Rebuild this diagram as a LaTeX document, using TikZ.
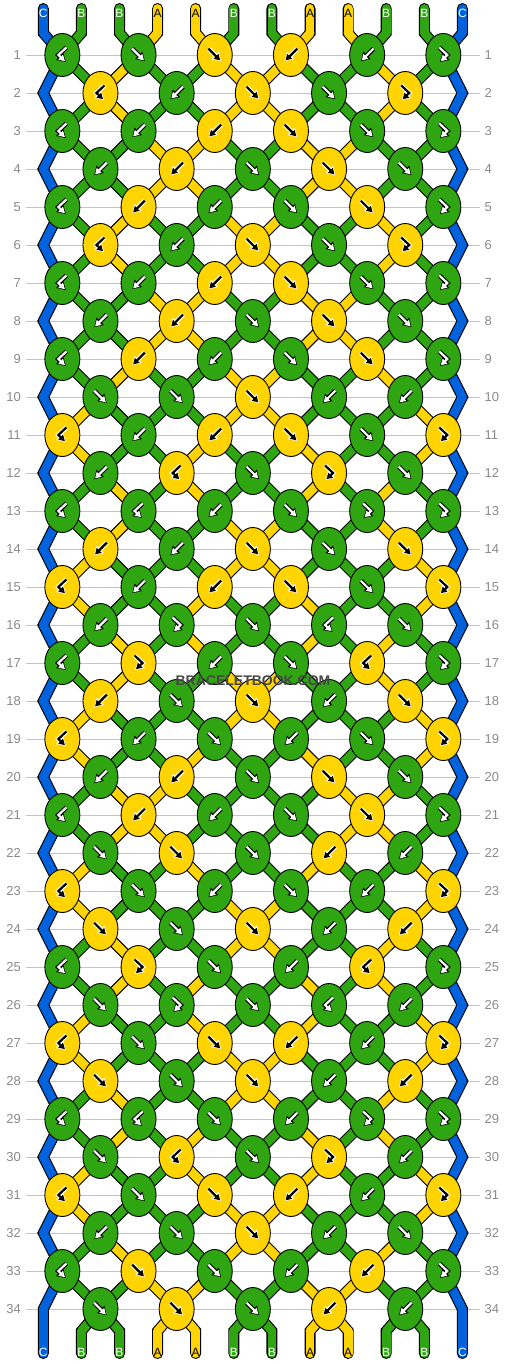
\documentclass[tikz,border=0pt]{standalone}
\usepackage{fontspec}
\setmainfont{Liberation Sans}
\usetikzlibrary{arrows.meta, backgrounds, shapes.geometric}

\definecolor{StrA}{HTML}{FFD400}
\definecolor{StrB}{HTML}{2FA512}
\definecolor{StrC}{HTML}{0062DC}
\colorlet{ArrA}{black}
\colorlet{RimA}{white}
\colorlet{ArrB}{white}
\colorlet{RimB}{black}
\colorlet{ArrC}{white}
\definecolor{RowGrey}{HTML}{C4C4C4}
\definecolor{NumGrey}{HTML}{8A8A8A}

% knot glyphs round the knot centre
\newcommand\glyphf[1]{\draw[#1] (-6.3,-6.3) -- (6.3,6.3);}
\newcommand\glyphb[1]{\draw[#1] (6.3,-6.3) -- (-6.3,6.3);}
\newcommand\glyphfb[1]{\draw[#1] (-4,-7.5) -- (4,0) -- (-3.5,7);}
\newcommand\glyphbf[1]{\draw[#1] (4,-7.5) -- (-4,0) -- (3.5,7);}
\newcommand\knotglyph[3]{%
  \begin{scope}[shift={(#1)}]
    \csname glyph#2\endcsname{line width=4.4pt, color=Rim#3, line join=miter,
      -{Triangle[length=8.5pt,width=9.8pt]}}
    \csname glyph#2\endcsname{line width=2.2pt, color=Arr#3, shorten >=1.3pt,
      -{Triangle[length=5.8pt,width=6.6pt]}}
  \end{scope}}

\begin{document}
\begin{tikzpicture}[x=1pt, y=-1pt,
    knot/.style={ellipse, draw=black, line width=0.9pt, minimum width=35pt,
                 minimum height=43pt, inner sep=0pt},
    rim/.style={line width=11pt, black, line cap=round, line join=miter},
    strand/.style={line width=8.8pt, line cap=round, line join=miter},
    rownum/.style={text=NumGrey, inner sep=0pt, font=\fontsize{13}{13}\selectfont},
    endlabel/.style={inner sep=0pt, font=\fontsize{12}{12}\selectfont}
]
\useasboundingbox (0,0) rectangle (506,1364);

% row numbers
\foreach \r in {1,...,34}{
  \pgfmathsetmacro\ky{17+38*\r}
  \node[rownum, anchor=east] (numL-\r) at (21,\ky) {\r};
  \node[rownum, anchor=west] (numR-\r) at (484.5,\ky) {\r};
}

% knots, type/colour
\foreach \r/\row in {
  1/{bf/B,f/B,f/A,b/A,b/B,fb/B},
  2/{bf/A,b/B,f/A,f/B,fb/A},
  3/{bf/B,b/B,b/A,f/A,f/B,fb/B},
  4/{b/B,b/A,f/B,f/A,f/B},
  5/{bf/B,b/A,b/B,f/B,f/A,fb/B},
  6/{bf/A,b/B,f/A,f/B,fb/A},
  7/{bf/B,b/B,b/A,f/A,f/B,fb/B},
  8/{b/B,b/A,f/B,f/A,f/B},
  9/{bf/B,b/A,b/B,f/B,f/A,fb/B},
  10/{f/B,f/B,f/A,b/B,b/B},
  11/{bf/A,b/B,b/A,f/A,f/B,fb/A},
  12/{b/B,bf/A,f/B,fb/A,f/B},
  13/{bf/B,bf/B,b/B,f/B,fb/B,fb/B},
  14/{b/A,b/B,f/A,f/B,f/A},
  15/{bf/A,b/B,b/A,f/A,f/B,fb/A},
  16/{b/B,fb/B,f/B,bf/B,f/B},
  17/{bf/B,fb/A,b/B,f/B,bf/A,fb/B},
  18/{b/A,f/B,f/A,b/B,f/A},
  19/{bf/A,b/B,f/B,b/B,f/B,fb/A},
  20/{b/B,b/A,f/B,f/A,f/B},
  21/{bf/B,b/A,b/B,f/B,f/A,fb/B},
  22/{f/B,f/A,f/B,b/A,b/B},
  23/{bf/A,f/B,b/B,f/B,b/B,fb/A},
  24/{f/A,f/B,f/A,b/B,b/A},
  25/{bf/B,fb/A,f/B,b/B,bf/A,fb/B},
  26/{f/B,fb/B,f/B,bf/B,b/B},
  27/{bf/A,f/B,f/A,b/A,b/B,fb/A},
  28/{f/A,f/B,f/A,b/B,b/A},
  29/{bf/B,bf/B,f/B,b/B,fb/B,fb/B},
  30/{f/B,bf/A,f/B,fb/A,b/B},
  31/{bf/A,f/B,f/A,b/A,b/B,fb/A},
  32/{b/B,f/B,f/A,b/B,f/B},
  33/{bf/B,f/A,f/B,b/B,b/A,fb/B},
  34/{f/B,f/A,f/B,b/A,b/B}}{
  \pgfmathsetmacro\ky{17+38*\r}
  \foreach \t/\c [count=\j] in \row {
    \pgfmathsetmacro\kx{mod(\r,2)==1 ? 76.2*\j-13.85 : 76.2*\j+24.25}
    \pgfmathtruncatemacro\pl{mod(\r,2)==1 ? 2*\j-1 : 2*\j}
    \pgfmathtruncatemacro\pr{\pl+1}
    \node[knot, fill=Str\c] (k-\r-\j) at (\kx,\ky) {};
    \coordinate (a-\r-\pl) at (k-\r-\j.center);
    \coordinate (a-\r-\pr) at (k-\r-\j.center);
    \knotglyph{k-\r-\j}{\t}{\c}
  }
  \ifodd\r\else
    \coordinate (a-\r-1) at (43.3,\ky);
    \coordinate (a-\r-12) at (462.4,\ky);
  \fi
}

% string ends
\foreach \c [count=\p] in {C,B,B,A,A,B,B,A,A,B,B,C}{
  \pgfmathsetmacro\sx{43.3+38.1*(\p-1)}
  \coordinate (t-\p) at (\sx,8.5);
  \coordinate (a-0-\p) at (\sx,33);
  \coordinate (a-35-\p) at (\sx,1331);
  \coordinate (e-\p) at (\sx,1353.5);
  \node[endlabel, text=Arr\c] (top-\p) at (\sx,13) {\c};
  \node[endlabel, text=Arr\c] (bot-\p) at (\sx,1352.5) {\c};
}

\node[font=\bfseries\fontsize{14}{14}\selectfont, text=black!72] (mark) at (253,681) {BRACELETBOOK.COM};

\begin{pgfonlayer}{background}
  % grid lines
  \foreach \r in {1,...,34}{
    \pgfmathsetmacro\ky{17+38*\r}
    \draw[RowGrey, line width=0.9pt] (26,\ky) -- (480,\ky);
  }
  % strand outlines
  \foreach \p in {1,...,12}{
    \draw[rim] (t-\p) \foreach \r in {0,...,35}{ -- (a-\r-\p)} -- (e-\p);
  }
  % strand colours, one list per row gap
  \foreach \r/\st in {
    0/{C,B,B,A,A,B,B,A,A,B,B,C},
    1/{C,B,A,B,B,A,A,B,B,A,B,C},
    2/{C,B,A,B,B,A,A,B,B,A,B,C},
    3/{C,B,B,A,A,B,B,A,A,B,B,C},
    4/{C,B,B,A,A,B,B,A,A,B,B,C},
    5/{C,B,A,B,B,A,A,B,B,A,B,C},
    6/{C,B,A,B,B,A,A,B,B,A,B,C},
    7/{C,B,B,A,A,B,B,A,A,B,B,C},
    8/{C,B,B,A,A,B,B,A,A,B,B,C},
    9/{C,B,A,B,B,A,A,B,B,A,B,C},
    10/{C,A,B,B,B,A,A,B,B,B,A,C},
    11/{C,A,B,B,A,B,B,A,B,B,A,C},
    12/{C,B,A,B,A,B,B,A,B,A,B,C},
    13/{C,B,A,B,B,A,A,B,B,A,B,C},
    14/{C,A,B,B,B,A,A,B,B,B,A,C},
    15/{C,A,B,B,A,B,B,A,B,B,A,C},
    16/{C,B,A,B,A,B,B,A,B,A,B,C},
    17/{C,B,A,B,B,A,A,B,B,A,B,C},
    18/{C,A,B,B,B,A,A,B,B,B,A,C},
    19/{C,A,B,B,A,B,B,A,B,B,A,C},
    20/{C,B,A,A,B,B,B,B,A,A,B,C},
    21/{C,B,A,A,B,B,B,B,A,A,B,C},
    22/{C,A,B,B,A,B,B,A,B,B,A,C},
    23/{C,A,B,B,B,A,A,B,B,B,A,C},
    24/{C,B,A,B,B,A,A,B,B,A,B,C},
    25/{C,B,A,B,A,B,B,A,B,A,B,C},
    26/{C,A,B,B,A,B,B,A,B,B,A,C},
    27/{C,A,B,B,B,A,A,B,B,B,A,C},
    28/{C,B,A,B,B,A,A,B,B,A,B,C},
    29/{C,B,A,B,A,B,B,A,B,A,B,C},
    30/{C,A,B,B,A,B,B,A,B,B,A,C},
    31/{C,A,B,B,B,A,A,B,B,B,A,C},
    32/{C,B,A,B,B,A,A,B,B,A,B,C},
    33/{C,B,B,A,A,B,B,A,A,B,B,C},
    34/{C,B,B,A,A,B,B,A,A,B,B,C}}{
    \pgfmathtruncatemacro\rn{\r+1}
    \foreach \c [count=\p] in \st {
      \draw[strand, color=Str\c] (a-\r-\p) -- (a-\rn-\p);
    }
  }
  \foreach \c [count=\p] in {C,B,B,A,A,B,B,A,A,B,B,C}{
    \draw[strand, color=Str\c] (t-\p) -- (a-0-\p);
    \draw[strand, color=Str\c] (a-35-\p) -- (e-\p);
  }
\end{pgfonlayer}
\end{tikzpicture}
\end{document}
